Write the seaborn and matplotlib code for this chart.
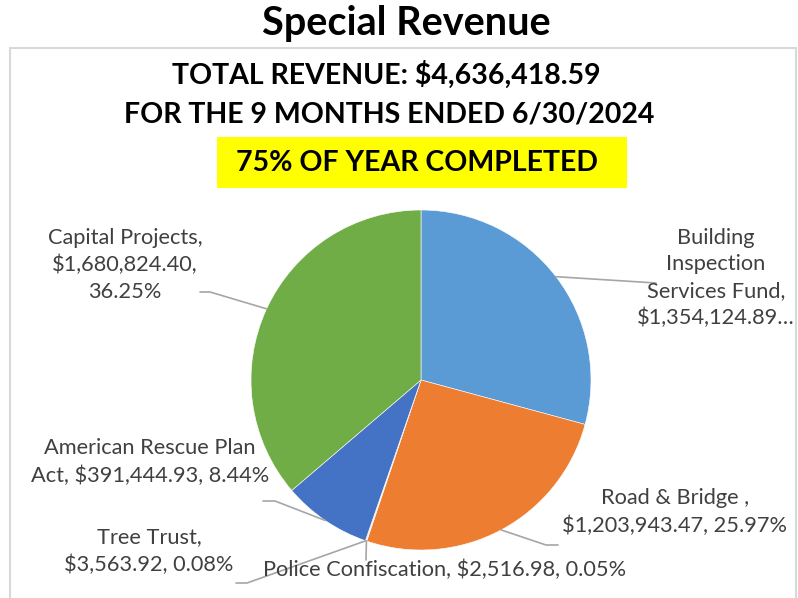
import numpy as np
import matplotlib
matplotlib.use("Agg")
import matplotlib.pyplot as plt
from matplotlib.patches import Rectangle
import seaborn as sns

# ── data ───────────────────────────────────────────
funds = ["Building Inspection Services Fund", "Road & Bridge ", "Police Confiscation",
         "Tree Trust", "American Rescue Plan Act", "Capital Projects"]
revenue = [1354124.89, 1203943.47, 2516.98, 3563.92, 391444.93, 1680824.40]
colors = ["#5B9BD5", "#ED7D31", "#A5A5A5", "#FFC000", "#4472C4", "#70AD47"]

title = "Special Revenue"
total_line = "TOTAL REVENUE: $4,636,418.59"
period_line = "FOR THE 9 MONTHS ENDED 6/30/2024"
progress_line = "75% OF YEAR COMPLETED"

sns.set_theme(style="white")
plt.rcParams["font.family"] = ["Lato", "DejaVu Sans"]

W, H = 798, 598
fig = plt.figure(figsize=(W / 100, H / 100), dpi=100)

# pie geometry (pixels)
cx, cy, R = 421, 380, 170


def fx(px):
    return px / W


def fy(py):
    return 1 - py / H


def to_data(px, py):
    return (px - cx) / R, (cy - py) / R


# chart frame
fig.patches.append(Rectangle((fx(10), fy(620)), fx(786), 572 / H, transform=fig.transFigure,
                             fill=False, edgecolor="#D9D9D9", linewidth=1.5))

ax = fig.add_axes([fx(cx - R), fy(cy + R), 2 * R / W, 2 * R / H])
wedges, _ = ax.pie(revenue, colors=colors, startangle=90, counterclock=False,
                   wedgeprops=dict(edgecolor="white", linewidth=0.4))
ax.set_xlim(-1, 1)
ax.set_ylim(-1, 1)
ax.set_aspect("equal")
ax.axis("off")

# headings
fig.text(fx(406), fy(23), title, ha="center", va="center", fontsize=28.5, fontweight="bold", color="black")
fig.text(fx(386), fy(75), total_line, ha="center", va="center", fontsize=20.5, fontweight="bold", color="black")
fig.text(fx(389), fy(114), period_line, ha="center", va="center", fontsize=20.5, fontweight="bold", color="black")
fig.patches.append(Rectangle((fx(217), fy(188)), fx(410), 51 / H, transform=fig.transFigure,
                             facecolor="#FFFF00", edgecolor="none"))
fig.text(fx(417), fy(163), progress_line, ha="center", va="center", fontsize=20.5, fontweight="bold", color="black")

# data labels
total = sum(revenue)
pct = [v / total * 100 for v in revenue]
money = ["${:,.2f}".format(v) for v in revenue]

labels = [
    "Building\nInspection\nServices Fund,\n" + money[0] + "…",
    funds[1] + ",\n" + money[1] + ", {:.2f}%".format(pct[1]),
    funds[2] + ", " + money[2] + ", {:.2f}%".format(pct[2]),
    funds[3] + ",\n" + money[3] + ", {:.2f}%".format(pct[3]),
    "American Rescue Plan\nAct, " + money[4] + ", {:.2f}%".format(pct[4]),
    funds[5] + ",\n" + money[5] + ",\n{:.2f}%".format(pct[5]),
]
# label centre (px) and leader-line elbow points (px)
label_pos = [(716, 278), (675, 512), (445, 570), (149, 551), (150, 462), (125, 265)]
elbows = [[(656, 283)], [(546, 545), (558, 545)], [(366, 560)],
          [(247, 583), (236, 583)], [(275, 501), (263, 501)], [(210, 292), (200, 292)]]

for w, lab, (lx, ly), elb in zip(wedges, labels, label_pos, elbows):
    mid = np.deg2rad((w.theta1 + w.theta2) / 2)
    pts = [(np.cos(mid), np.sin(mid))] + [to_data(*p) for p in elb]
    xs, ys = zip(*pts)
    ax.plot(xs, ys, color="#A6A6A6", linewidth=1.2, clip_on=False)
    fig.text(fx(lx), fy(ly), lab, ha="center", va="center", fontsize=15.7,
             color="#404040", linespacing=1.42)

fig.savefig("out.png", dpi=100)
